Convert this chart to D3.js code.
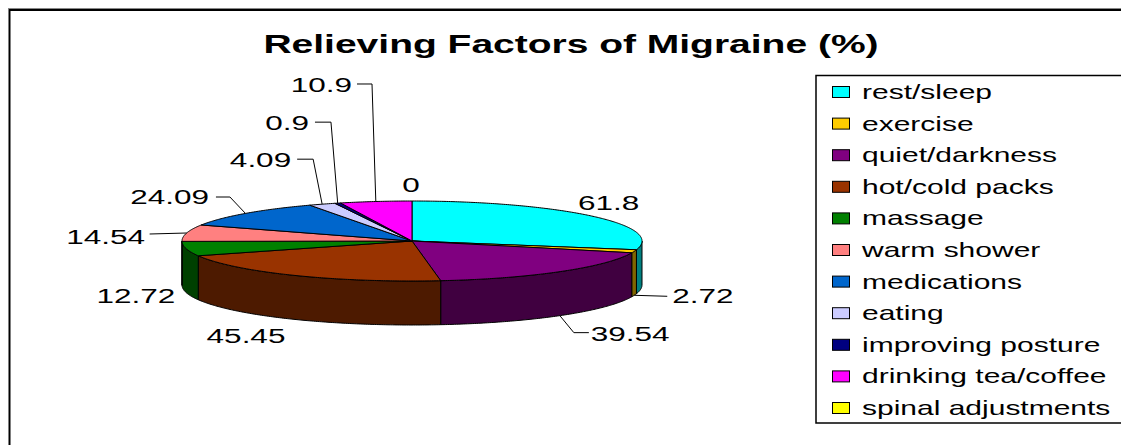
<!DOCTYPE html>
<html><head><meta charset="utf-8">
<script src="https://cdn.jsdelivr.net/npm/d3@7"></script>
<style>
html,body{margin:0;padding:0;background:#fff;}
svg{display:block;font-family:"Liberation Sans",Arial,sans-serif;}
</style></head>
<body><svg id="c" width="1121" height="445"></svg>
<script>
// ---- data ----
const title = "Relieving Factors of Migraine (%)";
const categories = ["rest/sleep","exercise","quiet/darkness","hot/cold packs","massage","warm shower","medications","eating","improving posture","drinking tea/coffee","spinal adjustments"];
const values = [61.8, 2.72, 39.54, 45.45, 12.72, 14.54, 24.09, 4.09, 0.9, 10.9, 0];
const valueLabels = ["61.8","2.72","39.54","45.45","12.72","14.54","24.09","4.09","0.9","10.9","0"];
const colors = ["#00FFFF","#FFCC00","#800080","#993300","#008000","#FF8080","#0066CC","#CCCCFF","#000080","#FF00FF","#FFFF00"];

// ---- layout (label placement relative to the slice's edge point) ----
const labelLayout = [
  {t:[17,-6], a:"middle", lead:[]},
  {t:[38,8], a:"start", lead:[[33,1]]},
  {t:[31,25], a:"start", lead:[[14,17],[29,17]]},
  {t:[-49,23.5], a:"middle", lead:[]},
  {t:[-11,10], a:"end", lead:[]},
  {t:[-41.6,11], a:"end", lead:[[-37,1]]},
  {t:[-36.5,-9.4], a:"end", lead:[[-15.5,-16.4],[-29.5,-16.4]]},
  {t:[-31,-37], a:"end", lead:[[-9,-45],[-25,-45]]},
  {t:[-28.7,-73], a:"end", lead:[[-6.7,-81],[-22.7,-81]]},
  {t:[-23.8,-109.5], a:"end", lead:[[-3.8,-117.5],[-18.8,-117.5]]},
  {t:[-1,-9], a:"middle", lead:[]}
];

const W = 1121, H = 445, SX = 1.5;
const cx = 412, cy = 241, rx = 230, ry = 40, depth = 44;

const svg = d3.select("#c");
const color = d3.scaleOrdinal(categories, colors);

// frame
svg.append("line").attr("x1",8).attr("x2",W).attr("y1",8.5).attr("y2",8.5).attr("stroke","#888").attr("stroke-width",1);
svg.append("rect").attr("x",9.5).attr("y",10).attr("width",W+20).attr("height",H+20)
  .attr("fill","none").attr("stroke","#000").attr("stroke-width",2);

// title
svg.append("text").attr("transform",`translate(571,53) scale(${SX},1)`)
  .attr("text-anchor","middle").attr("font-size",26).attr("font-weight","bold").attr("fill","#000").text(title);

const pie = d3.pie().sort(null).value(d=>d.v);
const arcs = pie(categories.map((c,i)=>({c, v:values[i], i})));

const pt = (th, dy=0) => [cx + rx*Math.sin(th), cy - ry*Math.cos(th) + dy];
const sample = (a0,a1,dy=0) => {
  const n = Math.max(2, Math.ceil((a1-a0)/0.01));
  return d3.range(n+1).map(k => pt(a0 + (a1-a0)*k/n, dy));
};
const line = d3.line();

const darker = c => { const r = d3.rgb(c); return d3.rgb(r.r*0.5, r.g*0.5, r.b*0.5).formatHex(); };

// sides
const gSide = svg.append("g");
arcs.forEach(a => {
  const s0 = Math.max(a.startAngle, Math.PI/2), s1 = Math.min(a.endAngle, 3*Math.PI/2);
  if (s1 <= s0) return;
  const pts = sample(s0,s1).concat(sample(s0,s1,depth).reverse());
  gSide.append("path").attr("d", line(pts) + "Z")
    .attr("fill", darker(color(a.data.c))).attr("stroke","#000").attr("stroke-width",1).attr("stroke-linejoin","round");
});

// tops
const gTop = svg.append("g");
arcs.forEach(a => {
  if (a.endAngle - a.startAngle <= 0) return;
  const pts = [[cx,cy]].concat(sample(a.startAngle, a.endAngle));
  gTop.append("path").attr("d", line(pts) + "Z")
    .attr("fill", color(a.data.c)).attr("stroke","#000").attr("stroke-width",1).attr("stroke-linejoin","round");
});

// labels
const gLab = svg.append("g");
arcs.forEach((a,i) => {
  const mid = (a.startAngle + a.endAngle)/2;
  const front = Math.cos(mid) < 0;
  const [ax, ay] = pt(mid, front ? depth : 0);
  const L = labelLayout[i];
  if (L.lead.length) {
    const pts = [[ax,ay]].concat(L.lead.map(([dx,dy])=>[ax+dx, ay+dy]));
    gLab.append("path").attr("d", line(pts)).attr("fill","none").attr("stroke","#000").attr("stroke-width",1);
  }
  gLab.append("text").attr("transform",`translate(${ax+L.t[0]},${ay+L.t[1]}) scale(${SX},1)`)
    .attr("text-anchor", L.a).attr("font-size",21).attr("fill","#000").text(valueLabels[i]);
});

// legend
const lg = svg.append("g");
lg.append("rect").attr("x",816).attr("y",75.5).attr("width",400).attr("height",347.5)
  .attr("fill","#fff").attr("stroke","#000").attr("stroke-width",1.5);
const ly = d3.scalePoint().domain(categories).range([86, 402]);
categories.forEach(c => {
  lg.append("rect").attr("x",832.5).attr("y",ly(c)+0.5).attr("width",17).attr("height",11)
    .attr("fill",color(c)).attr("stroke","#000").attr("stroke-width",1);
  lg.append("text").attr("transform",`translate(862,${ly(c)+13}) scale(${SX},1)`)
    .attr("font-size",20).attr("fill","#000").text(c);
});
</script></body></html>
